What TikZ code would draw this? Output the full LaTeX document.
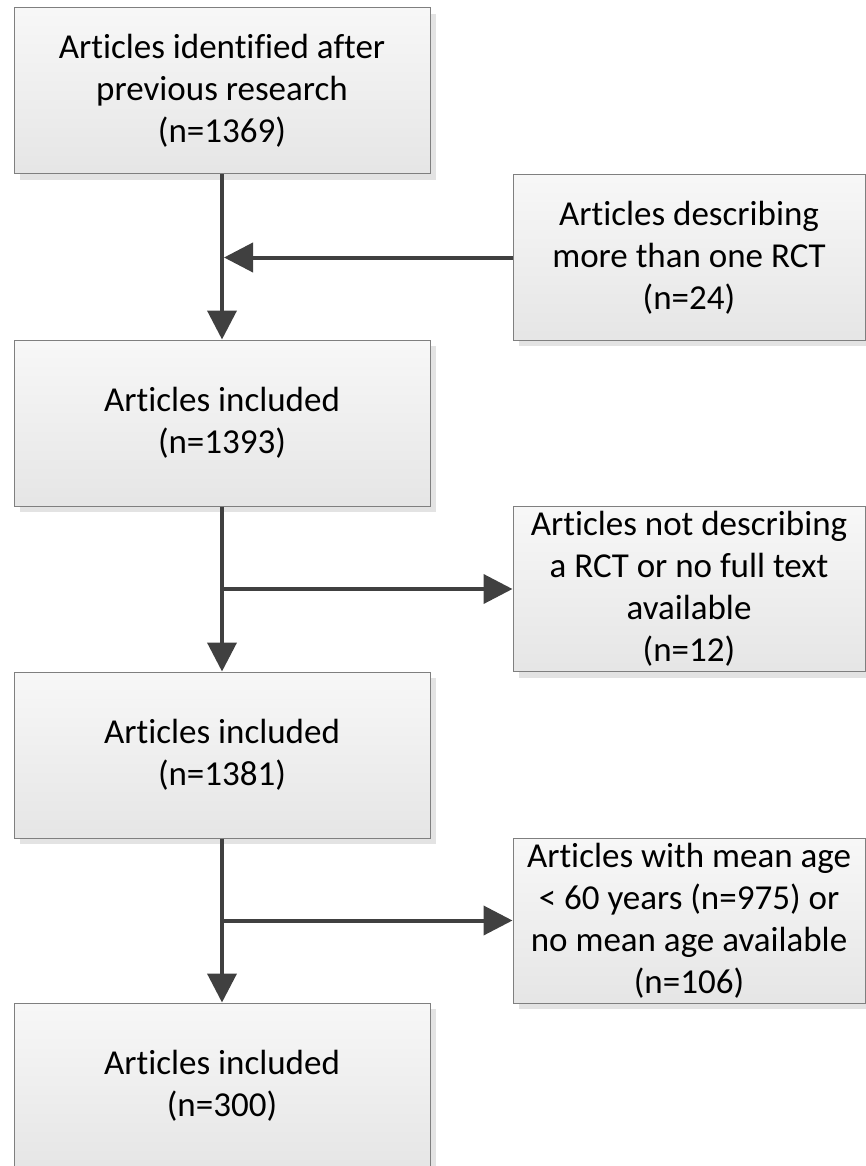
\documentclass[tikz,border=0pt]{standalone}
\usepackage{fontspec}
\setmainfont{Carlito}[Ligatures=NoCommon]
\usetikzlibrary{arrows.meta,shadows}
\definecolor{arrowgray}{HTML}{404040}
\definecolor{boxline}{HTML}{7F7F7F}
\begin{document}
\begin{tikzpicture}[x=1pt, y=-1pt,
    box/.style={draw=boxline, line width=1pt, top color=white!97!black, bottom color=white!90!black,
      drop shadow={shadow xshift=6pt, shadow yshift=-6pt, fill=black!11, opacity=1},
      align=center, font=\fontsize{35}{42}\selectfont, inner sep=0pt},
    leftbox/.style={box, minimum width=416pt, minimum height=166pt},
    rightbox/.style={box, minimum width=352pt, minimum height=165pt},
    arr/.style={-{Triangle[length=29pt, width=29pt]}, line width=4pt, arrowgray}]
    \useasboundingbox (0, 0) rectangle (866, 1166);

    % Boxes
    \node[leftbox] (found) at (222, 91) {Articles identified after\\previous research\\(n=1369)};
    \node[rightbox] (multi) at (689, 257.5) {Articles describing\\more than one RCT\\(n=24)};
    \node[leftbox] (incl1) at (222, 423) {Articles included\\(n=1393)};
    \node[rightbox] (norct) at (689, 589) {Articles not describing\\a RCT or no full text\\available\\(n=12)};
    \node[leftbox] (incl2) at (222, 755) {Articles included\\(n=1381)};
    \node[rightbox] (age) at (689, 920.5) {Articles with mean age\\< 60 years (n=975) or\\no mean age available\\(n=106)};
    \node[leftbox] (incl3) at (222, 1086) {Articles included\\(n=300)};

    % Arrows
    \draw[arr] (found) -- (incl1);
    \draw[arr] (incl1) -- (incl2);
    \draw[arr] (incl2) -- (incl3);
    \draw[arr] (multi.west) -- ([xshift=2pt]found.south |- multi.west);
    \draw[arr] (incl1.south |- norct.west) -- (norct.west);
    \draw[arr] (incl2.south |- age.west) -- (age.west);
\end{tikzpicture}
\end{document}
